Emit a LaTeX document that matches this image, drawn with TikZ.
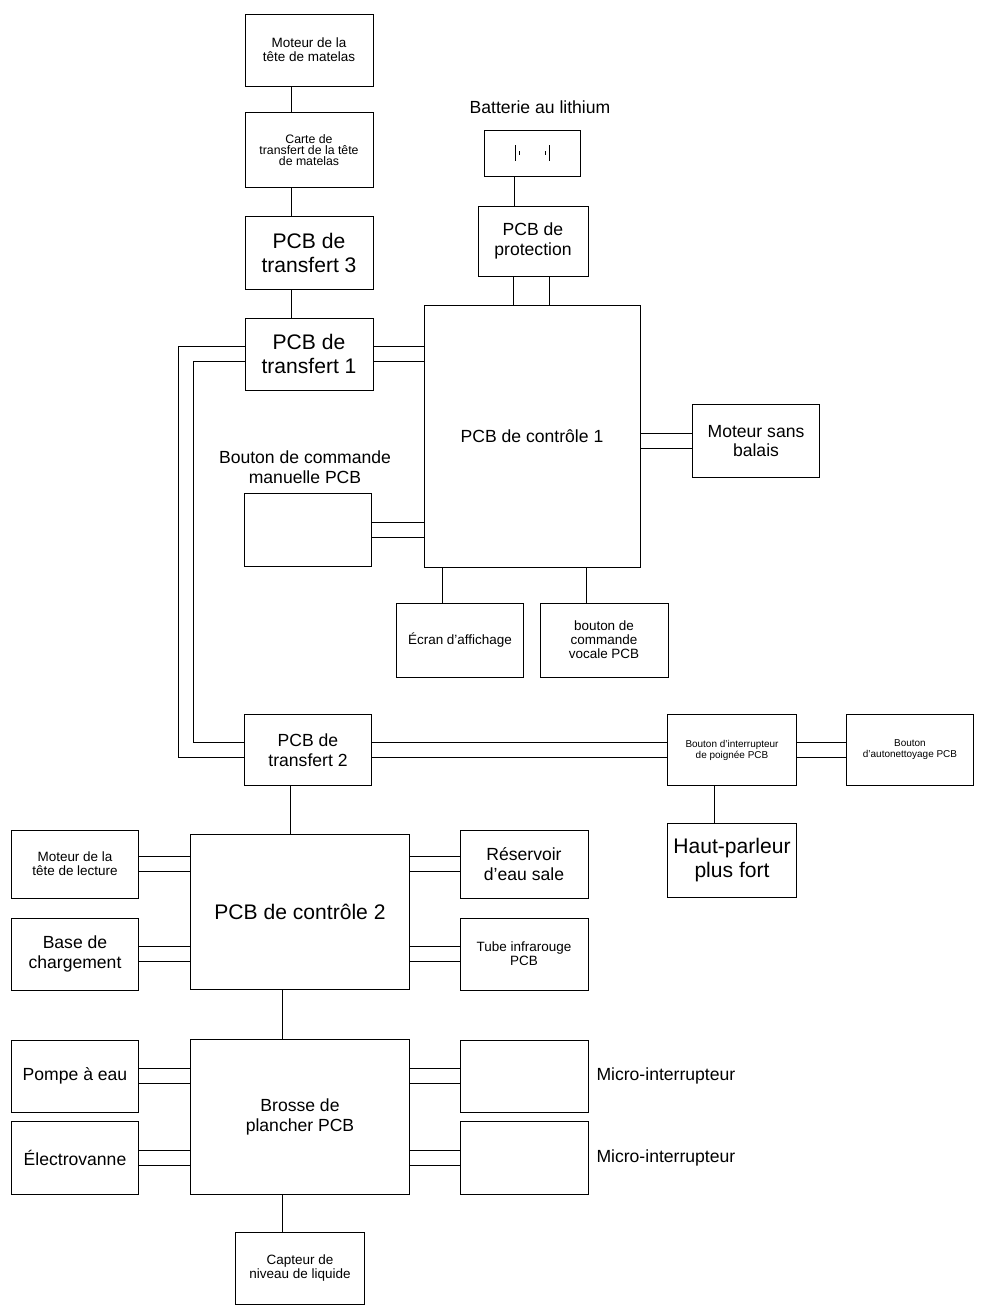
\documentclass[tikz,border=0pt]{standalone}
\usepackage{fontspec}
\setmainfont{Liberation Sans}
\usetikzlibrary{positioning,calc,backgrounds}
\begin{document}
\begin{tikzpicture}[
      x=0.03cm, y=-0.03cm,
      every node/.style={align=center, inner sep=1pt},
      box/.style 2 args={draw, line width=0.8pt,
        minimum width=#1*0.03cm,
        minimum height=#2*0.03cm,
      },
      big/.style={font=\fontsize{18}{21}\selectfont},
      mid/.style={font=\fontsize{15}{17}\selectfont},
      sml/.style={font=\fontsize{11.5}{12}\selectfont},
      tny/.style={font=\fontsize{8.5}{9.5}\selectfont},
      vlink/.style={draw, line width=0.8pt, double, double distance=1.05cm},
      hlink/.style={draw, line width=0.8pt, double, double distance=0.4cm},
      ]
      \useasboundingbox (0,0) rectangle (984,1307);
      % top column
      \node[box={128}{72}, sml] (mat) at (309,50) {Moteur de la\\tête de matelas};
      \node[box={128}{75}, font=\fontsize{10.5}{9.5}\selectfont] (carte) at (309,150) {Carte de\\transfert de la tête\\de matelas};
      \node[box={128}{73}, big] (t3) at (309,253) {PCB de\\transfert 3};
      \node[box={128}{72}, big] (t1) at (309,354) {PCB de\\transfert 1};
      % battery
      \node[mid] (batlbl) at (540,107) {Batterie au lithium};
      \node[box={96}{46}] (bat) at (532,153) {};
      \node[box={110}{70}, mid] (prot) at (533,241) {PCB de\\protection};
      \node[box={216}{262}, mid] (c1) at (532,436) {PCB de contrôle 1};
      \node[box={127}{73}, mid] (msb) at (756,441) {Moteur sans\\balais};
      \node[mid] (mlbl) at (305,467) {Bouton de commande\\manuelle PCB};
      \node[box={127}{73}] (man) at (308,530) {};
      \node[box={127}{74}, sml] (ecran) at (460,640) {Écran d'affichage};
      \node[box={128}{74}, sml] (voc) at (604,640) {bouton de\\commande\\vocale PCB};
      % middle row
      \node[box={127}{71}, mid] (t2) at (308,750) {PCB de\\transfert 2};
      \node[box={129}{71}, tny] (poig) at (732,750) {Bouton d'interrupteur\\de poignée PCB};
      \node[box={127}{71}, tny] (auto) at (910,750) {Bouton\\d'autonettoyage PCB};
      \node[box={129}{74}, big] (hp) at (732,860) {Haut-parleur\\plus fort};
      % control 2
      \node[box={219}{155}, big] (c2) at (300,912) {PCB de contrôle 2};
      \node[box={127}{68}, sml] (lect) at (75,864) {Moteur de la\\tête de lecture};
      \node[box={127}{72}, mid] (base) at (75,954) {Base de\\chargement};
      \node[box={128}{68}, mid] (res) at (524,864) {Réservoir\\d'eau sale};
      \node[box={128}{72}, sml] (ir) at (524,954) {Tube infrarouge\\PCB};
      % floor brush
      \node[box={219}{155}, mid] (br) at (300,1117) {Brosse de\\plancher PCB};
      \node[box={127}{72}, mid] (pompe) at (75,1076) {Pompe à eau};
      \node[box={127}{73}, mid] (elec) at (75,1158) {Électrovanne};
      \node[box={128}{72}] (mi1) at (524,1076) {};
      \node[box={128}{73}] (mi2) at (524,1158) {};
      \node[mid, right=2mm of mi1] (mi1lbl) {Micro-interrupteur};
      \node[mid, right=2mm of mi2] (mi2lbl) {Micro-interrupteur};
      \node[box={129}{72}, sml] (capt) at (300,1268) {Capteur de\\niveau de liquide};
      \coordinate (loop) at (186,550);

      % battery cells
      \draw[line width=0.8pt] (515,145) -- (515,161) (519,151) -- (519,155)
        (549,145) -- (549,161) (545,151) -- (545,155);

      % links
      \begin{scope}[on background layer]
      \draw[vlink] (mat) -- (carte);
      \draw[vlink] (carte) -- (t3);
      \draw[vlink] (t3) -- (t1);
      \draw[vlink] (bat) -- (bat |- prot.north);
      \draw[vlink] ([xshift=-1pt]prot.south) -- ([xshift=-1pt]prot.south |- c1.north);
      \draw[hlink] (t1.east) -- (t1.east -| c1.west);
      \draw[hlink] (c1.east |- msb) -- (msb);
      \draw[hlink] (man) -- (man -| c1.west);
      \draw[vlink] (ecran.north |- c1.south) -- (ecran);
      \draw[vlink] (voc.north |- c1.south) -- (voc);
      \draw[hlink] (t1.west) -| (loop) |- (t2.west);
      \draw[hlink] (t2) -- (poig);
      \draw[hlink] (poig) -- (auto);
      \draw[vlink] (poig) -- (hp);
      \draw[vlink] (t2.south) -- (t2.south |- c2.north);
      \draw[hlink] (lect) -- (lect -| c2.west);
      \draw[hlink] (base) -- (base -| c2.west);
      \draw[hlink] (res) -- (res -| c2.east);
      \draw[hlink] (ir) -- (ir -| c2.east);
      \draw[vlink] (c2) -- (br);
      \draw[hlink] (pompe) -- (pompe -| br.west);
      \draw[hlink] (elec) -- (elec -| br.west);
      \draw[hlink] (mi1) -- (mi1 -| br.east);
      \draw[hlink] (mi2) -- (mi2 -| br.east);
      \draw[vlink] (br) -- (capt);
      \end{scope}
    \end{tikzpicture}
\end{document}
